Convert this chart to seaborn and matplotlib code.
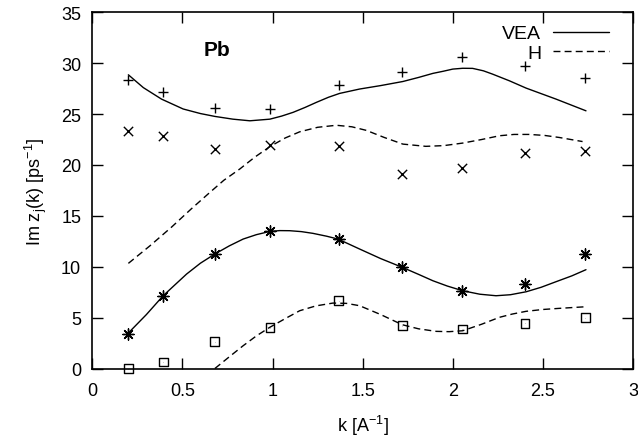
import matplotlib
matplotlib.use("Agg")
import matplotlib.pyplot as plt
import seaborn as sns

# measured points (k in A^-1, Im z in ps^-1)
k_points = [0.2, 0.393, 0.68, 0.986, 1.368, 1.72, 2.052, 2.401, 2.735]
plus_vals = [28.3, 27.2, 25.6, 25.5, 27.9, 29.15, 30.6, 29.75, 28.5]
cross_vals = [23.3, 22.87, 21.56, 21.98, 21.9, 19.1, 19.67, 21.2, 21.33]
star_vals = [3.39, 7.15, 11.25, 13.54, 12.72, 9.94, 7.65, 8.3, 11.25]
box_vals = [0.0, 0.64, 2.63, 4.0, 6.66, 4.2, 3.88, 4.44, 4.99]

# VEA curves (solid)
vea_top_k = [0.2, 0.283, 0.384, 0.504, 0.6, 0.68, 0.78, 0.874, 0.985, 1.05, 1.114,
             1.18, 1.243, 1.31, 1.372, 1.483, 1.6, 1.723, 1.81, 1.89, 1.945, 2.0,
             2.055, 2.11, 2.17, 2.22, 2.314, 2.407, 2.573, 2.739]
vea_top_v = [28.86, 27.6, 26.47, 25.5, 25.05, 24.77, 24.5, 24.34, 24.5, 24.8, 25.17,
             25.65, 26.15, 26.65, 27.03, 27.46, 27.8, 28.2, 28.6, 29.0, 29.2, 29.42,
             29.5, 29.49, 29.25, 28.93, 28.27, 27.55, 26.47, 25.32]
vea_low_k = [0.2, 0.3, 0.393, 0.523, 0.6, 0.68, 0.76, 0.837, 0.91, 0.985, 1.04, 1.095,
             1.16, 1.224, 1.3, 1.363, 1.483, 1.6, 1.72, 1.81, 1.89, 1.97, 2.055, 2.15,
             2.24, 2.32, 2.407, 2.49, 2.573, 2.66, 2.739]
vea_low_v = [3.49, 5.3, 7.15, 9.28, 10.35, 11.25, 12.05, 12.72, 13.15, 13.47, 13.55, 13.54,
             13.45, 13.28, 13.0, 12.72, 11.74, 10.8, 9.94, 9.25, 8.62, 8.1, 7.64, 7.3,
             7.15, 7.25, 7.54, 7.98, 8.53, 9.1, 9.71]

# H curves (dashed)
h_top_k = [0.2, 0.32, 0.44, 0.55, 0.652, 0.73, 0.818, 0.9, 0.985, 1.07, 1.151, 1.25,
           1.354, 1.44, 1.52, 1.62, 1.723, 1.85, 1.95, 2.055, 2.16, 2.259, 2.34, 2.425,
           2.51, 2.591, 2.72]
h_top_v = [10.33, 12.06, 13.9, 15.7, 17.3, 18.5, 19.6, 20.75, 21.8, 22.65, 23.26, 23.7,
           23.9, 23.75, 23.4, 22.7, 22.05, 21.83, 21.9, 22.15, 22.5, 22.87, 23.0, 23.0,
           22.9, 22.7, 22.3]
h_low_k = [0.68, 0.76, 0.837, 0.91, 0.985, 1.07, 1.151, 1.24, 1.335, 1.41, 1.483, 1.6,
           1.72, 1.81, 1.908, 1.98, 2.055, 2.16, 2.259, 2.33, 2.407, 2.5, 2.591, 2.739]
h_low_v = [0.0, 1.15, 2.24, 3.2, 4.05, 4.9, 5.68, 6.15, 6.43, 6.4, 6.17, 5.3,
           4.3, 3.9, 3.65, 3.62, 3.71, 4.35, 5.03, 5.35, 5.62, 5.8, 5.91, 6.07]

sns.set_style("ticks")
plt.rcParams["font.family"] = ["Liberation Sans", "DejaVu Sans"]
plt.rcParams["mathtext.default"] = "regular"
plt.rcParams["text.color"] = "black"
plt.rcParams["axes.labelcolor"] = "black"

f = plt.figure(figsize=(6.38, 4.39), dpi=100)
ax = f.add_axes([0.1447, 0.1583, 0.8475, 0.8114])

dash = (0, (5, 3))
sns.lineplot(x=vea_top_k, y=vea_top_v, color="black", linewidth=1, sort=False,
             estimator=None, label="VEA", ax=ax)
sns.lineplot(x=vea_low_k, y=vea_low_v, color="black", linewidth=1, sort=False,
             estimator=None, ax=ax)
sns.lineplot(x=h_top_k, y=h_top_v, color="black", linewidth=1, sort=False,
             estimator=None, linestyle=dash, label="H", ax=ax)
sns.lineplot(x=h_low_k, y=h_low_v, color="black", linewidth=1, sort=False,
             estimator=None, linestyle=dash, ax=ax)
vea_line, _, h_line, _ = ax.get_lines()

sns.scatterplot(x=k_points, y=plus_vals, marker="+", s=55, color="black",
                linewidth=1, ax=ax)
sns.scatterplot(x=k_points, y=cross_vals, marker="x", s=45, color="black",
                linewidth=1, ax=ax)
sns.scatterplot(x=k_points, y=star_vals, marker=(8, 2, 0), s=65, color="black",
                linewidth=1, ax=ax)
sns.scatterplot(x=k_points, y=box_vals, marker="s", s=40, color="black",
                linewidth=1, ax=ax)
box = ax.collections[-1]
box.set_facecolor("none")
box.set_edgecolor("black")
box.set_clip_on(False)
sns.scatterplot(x=k_points, y=box_vals, marker=".", s=2, color="black",
                linewidth=0, ax=ax)

ax.set_xlim(0, 3)
ax.set_ylim(0, 35)
ax.set_xticks([0, 0.5, 1, 1.5, 2, 2.5, 3])
ax.set_xticklabels(["0", "0.5", "1", "1.5", "2", "2.5", "3"])
ax.set_yticks(range(0, 36, 5))
ax.tick_params(direction="in", length=8, width=1, top=True, right=True,
               labelsize=13, pad=8, colors="black")
ax.tick_params(axis="x", pad=10)
for s in ax.spines.values():
    s.set_linewidth(1.2)
    s.set_color("black")

ax.set_xlabel("k [A$^{-1}$]", fontsize=13, labelpad=10)
ax.set_ylabel("Im z$_j$(k) [ps$^{-1}$]", fontsize=13, labelpad=9)
ax.text(0.69, 31.3, "Pb", fontsize=15, fontweight="bold", ha="center", va="center")

ax.legend([vea_line, h_line], ["VEA", "H"], loc="upper right", frameon=False,
          bbox_to_anchor=(0.963, 0.976), markerfirst=False, fontsize=14,
          handlelength=2.9, handletextpad=0.6, labelspacing=0.1,
          borderaxespad=0, borderpad=0.2)

plt.savefig("out.png", dpi=100)
plt.close(f)
